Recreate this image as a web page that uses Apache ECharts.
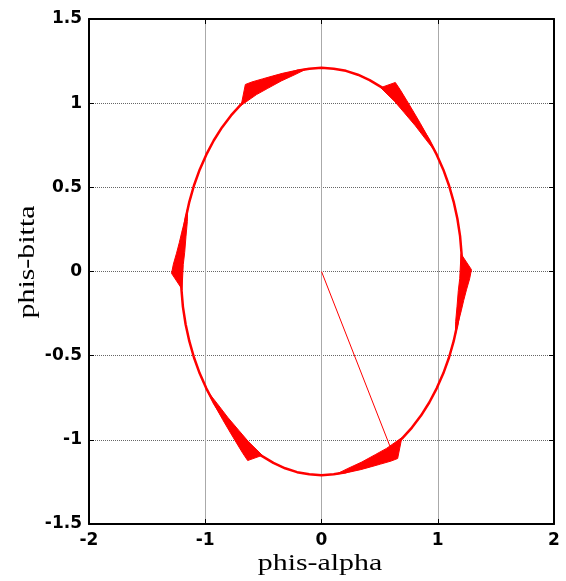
<!DOCTYPE html>
<html>
<head>
<meta charset="utf-8">
<script src="https://cdn.jsdelivr.net/npm/echarts@6/dist/echarts.min.js"></script>
<style>
html,body{margin:0;padding:0;background:#fff;}
#chart{width:566px;height:581px;}
</style>
</head>
<body>
<div id="chart"></div>
<script>
// Axis labels
const xName = 'phis-alpha';
const yName = 'phis-bitta';

// Main flux locus (roughly every 5 degrees)
const loop = [
  [1.210, 0], [1.205, 0.105], [1.192, 0.210], [1.169, 0.313], [1.137, 0.414], [1.097, 0.511],
  [1.048, 0.605], [0.991, 0.694], [0.927, 0.778], [0.856, 0.856], [0.778, 0.927], [0.694, 0.991],
  [0.605, 1.048], [0.511, 1.097], [0.414, 1.137], [0.313, 1.169], [0.210, 1.192], [0.105, 1.205],
  [0, 1.210], [-0.105, 1.205], [-0.210, 1.192], [-0.313, 1.169], [-0.414, 1.137], [-0.511, 1.097],
  [-0.605, 1.048], [-0.694, 0.991], [-0.778, 0.927], [-0.856, 0.856], [-0.927, 0.778], [-0.991, 0.694],
  [-1.048, 0.605], [-1.097, 0.511], [-1.137, 0.414], [-1.169, 0.313], [-1.192, 0.210], [-1.205, 0.105],
  [-1.210, 0], [-1.205, -0.105], [-1.192, -0.210], [-1.169, -0.313], [-1.137, -0.414], [-1.097, -0.511],
  [-1.048, -0.605], [-0.991, -0.694], [-0.927, -0.778], [-0.856, -0.856], [-0.778, -0.927], [-0.694, -0.991],
  [-0.605, -1.048], [-0.511, -1.097], [-0.414, -1.137], [-0.313, -1.169], [-0.210, -1.192], [-0.105, -1.205],
  [0, -1.210], [0.105, -1.205], [0.210, -1.192], [0.313, -1.169], [0.414, -1.137], [0.511, -1.097],
  [0.605, -1.048], [0.694, -0.991], [0.778, -0.927], [0.856, -0.856], [0.927, -0.778], [0.991, -0.694],
  [1.048, -0.605], [1.097, -0.511], [1.137, -0.414], [1.169, -0.313], [1.192, -0.210], [1.205, -0.105],
  [1.210, 0]
];

// Start-up transient from the origin
const transient = [[0, 0], [0.59, -1.04]];

// Chattering bands at the six sector boundaries (outline)
const wedge0 = [[1.200, 0.105], [1.290, 0.011], [1.274, -0.044], [1.247, -0.109], [1.223, -0.172], [1.202, -0.234],
  [1.176, -0.304], [1.152, -0.374], [1.154, -0.298], [1.166, -0.206], [1.177, -0.113], [1.189, -0.042]];
const wedge60 = [[0.509, 1.092], [0.635, 1.123], [0.676, 1.081], [0.736, 1.013], [0.794, 0.946], [0.850, 0.880],
  [0.917, 0.797], [0.980, 0.712], [0.900, 0.782], [0.807, 0.866], [0.711, 0.944], [0.631, 1.009]];
const wedge120 = [[-0.691, 0.987], [-0.655, 1.111], [-0.599, 1.126], [-0.509, 1.144], [-0.422, 1.161], [-0.337, 1.177],
  [-0.232, 1.193], [-0.127, 1.204], [-0.227, 1.170], [-0.346, 1.132], [-0.462, 1.088], [-0.559, 1.051]];
const wedge180 = [[-1.200, -0.105], [-1.290, -0.011], [-1.274, 0.044], [-1.247, 0.109], [-1.223, 0.172], [-1.202, 0.234],
  [-1.176, 0.304], [-1.152, 0.374], [-1.154, 0.298], [-1.166, 0.206], [-1.177, 0.113], [-1.189, 0.042]];
const wedge240 = [[-0.509, -1.092], [-0.635, -1.123], [-0.676, -1.081], [-0.736, -1.013], [-0.794, -0.946], [-0.850, -0.880],
  [-0.917, -0.797], [-0.980, -0.712], [-0.900, -0.782], [-0.807, -0.866], [-0.711, -0.944], [-0.631, -1.009]];
const wedge300 = [[0.691, -0.987], [0.655, -1.111], [0.599, -1.126], [0.509, -1.144], [0.422, -1.161], [0.337, -1.177],
  [0.232, -1.193], [0.127, -1.204], [0.227, -1.170], [0.346, -1.132], [0.462, -1.088], [0.559, -1.051]];
const wedges = [wedge0, wedge60, wedge120, wedge180, wedge240, wedge300];

const chart = echarts.init(document.getElementById('chart'), null, {renderer: 'canvas'});

const labelFont = {color: '#000', fontFamily: 'DejaVu Sans', fontWeight: 'bold', fontSize: 17};
const lineBlack = {show: true, onZero: false, lineStyle: {color: '#000', width: 2}};
const tickIn = {show: true, inside: true, length: 5, lineStyle: {color: '#000', width: 1}};

chart.setOption({
  animation: false,
  backgroundColor: '#fff',
  grid: {left: 89, right: 12, top: 19, bottom: 57, containLabel: false},
  xAxis: [
    {
      type: 'value', position: 'bottom', min: -2, max: 2, interval: 1,
      axisLine: lineBlack, axisTick: tickIn,
      axisLabel: Object.assign({margin: 8}, labelFont),
      splitLine: {show: true, lineStyle: {color: '#aaa', width: 1, type: 'solid'}}
    },
    {
      type: 'value', position: 'top', min: -2, max: 2, interval: 1,
      axisLine: lineBlack, axisTick: tickIn,
      axisLabel: {show: false}, splitLine: {show: false}
    }
  ],
  yAxis: [
    {
      type: 'value', position: 'left', min: -1.5, max: 1.5, interval: 0.5,
      axisLine: lineBlack, axisTick: tickIn,
      axisLabel: Object.assign({margin: 7}, labelFont),
      splitLine: {show: true, lineStyle: {color: '#666', width: 1, type: [1, 1]}}
    },
    {
      type: 'value', position: 'right', min: -1.5, max: 1.5, interval: 0.5,
      axisLine: lineBlack, axisTick: tickIn,
      axisLabel: {show: false}, splitLine: {show: false}
    }
  ],
  graphic: [
    {
      type: 'text', x: 320, y: 564, scaleX: 1.3, z: 10,
      style: {text: xName, x: 0, y: 0, fontFamily: 'Liberation Serif', fontSize: 23, fill: '#000',
        align: 'center', verticalAlign: 'middle', textAlign: 'center', textVerticalAlign: 'middle'}
    },
    {
      type: 'text', x: 28, y: 262, scaleX: 1.3, rotation: Math.PI / 2, z: 10,
      style: {text: yName, x: 0, y: 0, fontFamily: 'Liberation Serif', fontSize: 23, fill: '#000',
        align: 'center', verticalAlign: 'middle', textAlign: 'center', textVerticalAlign: 'middle'}
    }
  ],
  series: [
    {
      type: 'line', xAxisIndex: 0, yAxisIndex: 0, data: loop, symbol: 'none',
      lineStyle: {color: '#ff0000', width: 2.5}, z: 3
    },
    {
      type: 'line', xAxisIndex: 0, yAxisIndex: 0, data: transient, symbol: 'none',
      lineStyle: {color: '#ff0000', width: 1}, z: 3
    },
    {
      type: 'custom', xAxisIndex: 0, yAxisIndex: 0, z: 4,
      data: wedges.map(w => w[1]),
      renderItem: function (params, api) {
        const pts = wedges[params.dataIndex].map(p => api.coord(p));
        return {
          type: 'polygon',
          shape: {points: pts},
          style: {fill: '#ff0000', stroke: '#ff0000', lineWidth: 1}
        };
      }
    }
  ]
});
</script>
</body>
</html>
